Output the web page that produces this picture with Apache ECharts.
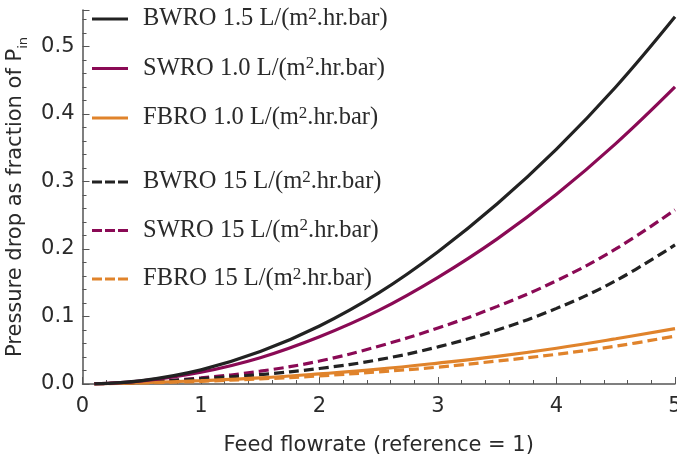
<!DOCTYPE html>
<html>
<head>
<meta charset="utf-8">
<script src="https://cdn.jsdelivr.net/npm/echarts@6/dist/echarts.min.js"></script>
<style>html,body{margin:0;padding:0;background:#fff;overflow:hidden}#c{width:677px;height:460px}</style>
</head>
<body>
<div id="c"></div>
<script>
// Feed flowrate (reference = 1)
const feedFlow = [0.1, 0.5, 1, 1.5, 2, 2.5, 3, 3.5, 4, 4.5, 5];
// Pressure drop as fraction of P_in
const bwro15Solid = [0.0003, 0.005, 0.021, 0.048, 0.086, 0.135, 0.196, 0.267, 0.348, 0.440, 0.544];
const swro10Solid = [0.0002, 0.0045, 0.0175, 0.039, 0.070, 0.109, 0.158, 0.215, 0.281, 0.356, 0.440];
const fbro10Solid = [0.0003, 0.002, 0.005, 0.009, 0.015, 0.022, 0.031, 0.041, 0.053, 0.067, 0.082];
const bwro15Dash = [0.0002, 0.0025, 0.008, 0.014, 0.023, 0.036, 0.055, 0.080, 0.112, 0.153, 0.206];
const swro15Dash = [0.0002, 0.003, 0.009, 0.019, 0.034, 0.056, 0.083, 0.115, 0.153, 0.200, 0.258];
const fbro15Dash = [0.0002, 0.0015, 0.004, 0.0075, 0.012, 0.018, 0.025, 0.034, 0.044, 0.056, 0.071];

const names = ['BWRO 1.5 L/(m².hr.bar)', 'SWRO 1.0 L/(m².hr.bar)', 'FBRO 1.0 L/(m².hr.bar)',
               'BWRO 15 L/(m².hr.bar)', 'SWRO 15 L/(m².hr.bar)', 'FBRO 15 L/(m².hr.bar)'];
const colors = ['#222222', '#8a0a55', '#e0832b', '#222222', '#8a0a55', '#e0832b'];
const dataSets = [bwro15Solid, swro10Solid, fbro10Solid, bwro15Dash, swro15Dash, fbro15Dash];

const sans = 'DejaVu Sans';
const serif = 'Liberation Serif';
const txt = '#2a2a2a';
const axisCol = '#555555';

const solidIcon = 'path://M0,0H36V3H0Z';
const dashIcon = 'path://M0,0H10V3H0Z M13,0H23V3H13Z M26,0H36V3H26Z';

const series = dataSets.map((d, i) => ({
  name: names[i],
  type: 'line',
  smooth: 0.4,
  symbol: 'none',
  z: 10 - i,
  data: feedFlow.map((x, k) => [x, d[k]]),
  lineStyle: { color: colors[i], width: 3.2, type: i < 3 ? 'solid' : [10, 5] },
  itemStyle: { color: colors[i] }
}));

function makeLegend(top, gap, data, icon) {
  return {
    orient: 'vertical',
    left: 92,
    top: top,
    padding: 0,
    itemWidth: 36,
    itemHeight: 3,
    itemGap: gap,
    data: data.map(n => ({ name: n, icon: icon })),
    formatter: n => {
      const p = n.split('²');
      return '{f|' + p[0] + '}{sup|2}{t|' + p[1] + '}';
    },
    textStyle: {
      fontFamily: serif, fontSize: 24.5, color: txt,
      rich: {
        f: { fontFamily: serif, fontSize: 24.5, color: txt, lineHeight: 26, verticalAlign: 'middle', padding: [0, 0, 0, 10] },
        t: { fontFamily: serif, fontSize: 24.5, color: txt, lineHeight: 26, verticalAlign: 'middle' },
        sup: { fontFamily: serif, fontSize: 17, color: txt, lineHeight: 14, verticalAlign: 'top' }
      }
    }
  };
}

const chart = echarts.init(document.getElementById('c'), null, { renderer: 'canvas' });
chart.setOption({
  animation: false,
  backgroundColor: '#ffffff',
  grid: { left: 82.5, right: 2, top: 10, bottom: 76, containLabel: false, outerBoundsMode: 'none' },
  legend: [
    makeLegend(6, 24, names.slice(0, 3), solidIcon),
    makeLegend(169, 23, names.slice(3), dashIcon)
  ],
  xAxis: {
    type: 'value', min: 0, max: 5, interval: 1,
    name: 'Feed flowrate (reference = 1)',
    nameLocation: 'middle', nameGap: 51,
    nameTextStyle: { fontFamily: sans, fontSize: 21, color: txt },
    axisLine: { lineStyle: { color: axisCol, width: 1.5 } },
    axisTick: { inside: true, length: 7, lineStyle: { color: axisCol } },
    minorTick: { show: true, splitNumber: 5, length: 4, lineStyle: { color: axisCol } },
    splitLine: { show: false },
    axisLabel: { fontFamily: sans, fontSize: 21, color: txt, margin: 12 }
  },
  yAxis: {
    type: 'value', min: 0, max: 0.554, interval: 0.1,
    name: '{m|Pressure drop as fraction of P}{s|in}',
    nameLocation: 'middle', nameGap: 46,
    nameTextStyle: {
      fontFamily: sans, fontSize: 21, color: txt,
      rich: {
        m: { fontFamily: sans, fontSize: 21, color: txt, lineHeight: 30, verticalAlign: 'middle' },
        s: { fontFamily: sans, fontSize: 13, color: txt, lineHeight: 13, verticalAlign: 'bottom' }
      }
    },
    axisLine: { show: true, lineStyle: { color: axisCol, width: 1.5 } },
    axisTick: { inside: true, length: 7, lineStyle: { color: axisCol } },
    minorTick: { show: true, splitNumber: 5, length: 4, lineStyle: { color: axisCol } },
    splitLine: { show: false },
    axisLabel: {
      fontFamily: sans, fontSize: 21, color: txt, margin: 8, showMaxLabel: false,
      formatter: v => (Math.abs(v * 10 - Math.round(v * 10)) < 1e-6 ? v.toFixed(1) : '')
    }
  },
  series: series
});
</script>
</body>
</html>
